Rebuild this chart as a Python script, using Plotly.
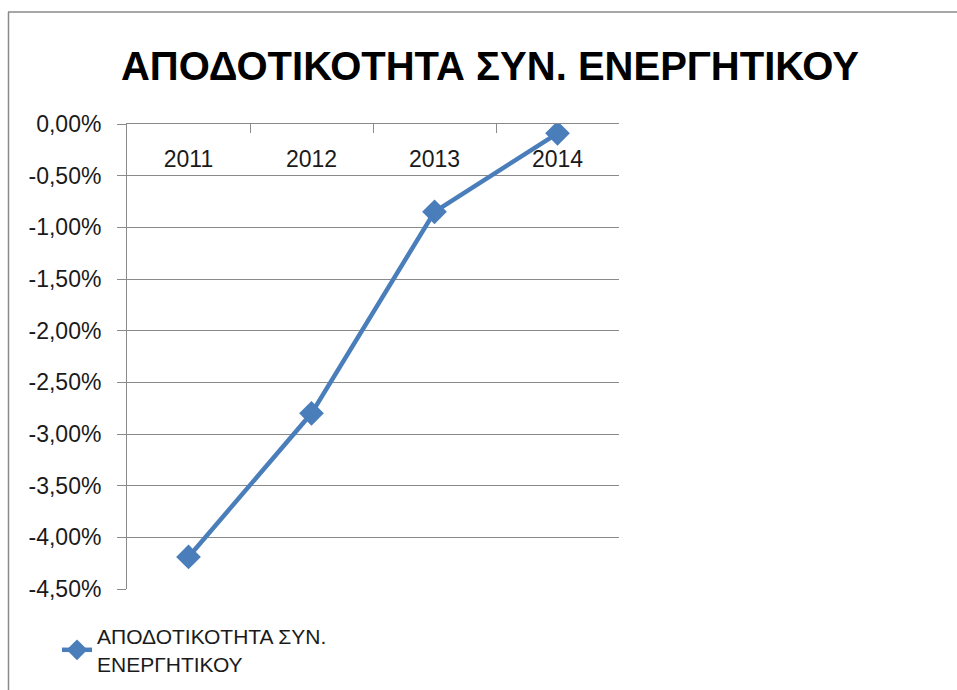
import plotly.graph_objects as go

years = ["2011", "2012", "2013", "2014"]
values = [-0.0419, -0.0280, -0.0085, -0.0009]
series_name = "ΑΠΟΔΟΤΙΚΟΤΗΤΑ ΣΥΝ. ΕΝΕΡΓΗΤΙΚΟΥ"
legend_label = "ΑΠΟΔΟΤΙΚΟΤΗΤΑ ΣΥΝ.<br>ΕΝΕΡΓΗΤΙΚΟΥ"
y_ticks = [0, -0.005, -0.01, -0.015, -0.02, -0.025, -0.03, -0.035, -0.04, -0.045]
y_ticktext = ["0,00%", "-0,50%", "-1,00%", "-1,50%", "-2,00%",
              "-2,50%", "-3,00%", "-3,50%", "-4,00%", "-4,50%"]

W, H = 957, 690
L, R, T, B = 127, 338, 124, 101
pw, ph = W - L - R, H - T - B

BLUE = "#4A7EBB"
GRID = "#8A8A8A"
FONT = "Liberation Sans, Arial, sans-serif"

fig = go.Figure()
fig.add_trace(go.Scatter(
    x=years, y=values, mode="lines+markers", name=legend_label,
    line=dict(color=BLUE, width=4.5),
    marker=dict(symbol="diamond", size=19, color=BLUE),
))
# invisible companion trace that carries the category labels axis
fig.add_trace(go.Scatter(
    x=years, y=values, xaxis="x2", mode="markers",
    marker=dict(opacity=0), showlegend=False, hoverinfo="skip",
))

def px2paper_x(px):
    return (px - L) / pw

def px2paper_y(py):
    return 1 - (py - T) / ph

fig.update_layout(
    width=W, height=H,
    margin=dict(l=L, r=R, t=T, b=B, autoexpand=False),
    paper_bgcolor="white", plot_bgcolor="white",
    font=dict(family=FONT, size=23, color="#1a1a1a"),
    title=dict(
        text="<b>" + series_name + "</b>",
        font=dict(family="Liberation Sans, Arial, sans-serif", size=40, color="#000000"),
        x=490 / W, xref="container", xanchor="center",
        y=1 - 66 / H, yref="container", yanchor="middle",
    ),
    showlegend=True,
    legend=dict(
        xref="container", yref="container",
        x=57 / W, y=1 - 616 / H, xanchor="left", yanchor="top",
        font=dict(family=FONT, size=21, color="#1a1a1a"),
        bgcolor="rgba(0,0,0,0)",
    ),
    xaxis=dict(
        type="category", side="top", range=[-0.5, 3.5],
        showline=True, linecolor=GRID, linewidth=1,
        ticks="inside", ticklen=9, tickcolor=GRID, tickson="boundaries",
        showticklabels=False,
        showgrid=False, zeroline=False,
        fixedrange=True,
    ),
    xaxis2=dict(
        type="category", overlaying="x", anchor="free", position=px2paper_y(133), side="bottom",
        range=[-0.5, 3.5],
        showline=False, ticks="", showgrid=False, zeroline=False,
        ticklabelstandoff=10,
        tickfont=dict(family=FONT, size=23, color="#1a1a1a"),
        fixedrange=True,
    ),
    yaxis=dict(
        range=[-0.045, 0], tickvals=y_ticks, ticktext=y_ticktext,
        showline=True, linecolor=GRID, linewidth=1,
        ticks="outside", ticklen=9, tickcolor=GRID,
        showgrid=True, gridcolor=GRID, gridwidth=1, zeroline=False,
        ticklabelstandoff=11,
        tickfont=dict(family=FONT, size=23, color="#1a1a1a"),
        fixedrange=True,
    ),
    shapes=[
        dict(type="line", xref="paper", yref="paper",
             x0=px2paper_x(8.5), x1=px2paper_x(8.5), y0=px2paper_y(12), y1=px2paper_y(700),
             line=dict(color="#8A8A8A", width=1.5)),
        dict(type="line", xref="paper", yref="paper",
             x0=px2paper_x(8), x1=px2paper_x(960), y0=px2paper_y(12), y1=px2paper_y(12),
             line=dict(color="#8A8A8A", width=1.5)),
    ],
)

fig.write_html("out.html")
